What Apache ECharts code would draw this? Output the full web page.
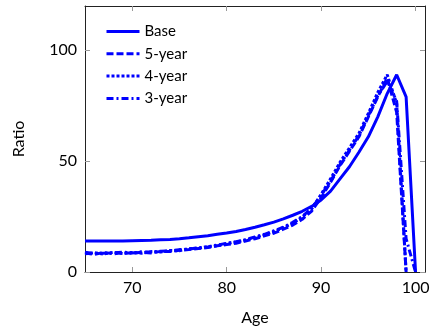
<!DOCTYPE html>
<html>
<head>
<meta charset="utf-8">
<script src="https://cdn.jsdelivr.net/npm/echarts@6/dist/echarts.min.js"></script>
<style>
html,body{margin:0;padding:0;background:#fff;}
#c{width:432px;height:327px;}
</style>
</head>
<body>
<div id="c"></div>
<script>
const ages = [65,66,67,68,69,70,71,72,73,74,75,76,77,78,79,80,81,82,83,84,85,86,87,88,89,90,91,92,93,94,95,96,97,98,99,100];
const base = [14.0,14.0,14.0,14.0,14.0,14.1,14.2,14.3,14.5,14.7,15.0,15.4,15.9,16.4,17.0,17.6,18.3,19.2,20.2,21.3,22.5,24.0,25.6,27.4,29.6,32.5,36.5,42.0,47.5,54.0,61.0,70.0,80.5,89.0,79.0,0];
const fiveYear = [8.6,8.0,8.8,8.2,8.7,8.4,8.9,8.6,9.3,9.2,9.8,10.1,10.6,11.0,11.8,12.4,13.0,14.0,15.0,16.3,17.5,19.3,21.2,23.8,27.5,33.5,40.5,48.0,54.5,61.0,70.0,79.0,87.5,72.0,0,null];
const fourYear = [8.2,8.7,8.1,8.9,8.3,8.8,8.5,9.2,9.0,9.7,9.6,10.5,10.7,11.5,11.9,12.8,13.5,14.4,15.5,16.8,18.2,20.0,22.0,24.8,28.5,35.0,42.0,49.5,56.0,62.5,71.5,81.0,89.0,76.0,0,null];
const threeYear = [8.9,8.3,8.5,8.6,9.0,8.6,9.1,9.0,9.4,9.5,10.1,10.3,11.0,11.3,12.2,12.9,13.7,14.6,15.8,17.0,18.6,20.2,22.4,25.0,28.8,34.5,41.0,48.5,55.0,61.5,70.5,79.5,86.0,77.0,15.0,0];
const seriesNames = ['Base','5-year','4-year','3-year'];
const xTicks = [70,80,90,100];
const yTicks = [0,50,100];

const pairs = vals => ages.map((a,i) => [a, vals[i]]);
const font = 'Lato, "Open Sans", sans-serif';
const blue = '#0000ff';
const dashes = ['solid',[7,3],[3,2],[7,3,2,3]];
const all = [base,fiveYear,fourYear,threeYear];

const chart = echarts.init(document.getElementById('c'), null, {renderer:'canvas'});
const tickStyle = {show:true, inside:true, length:5, lineStyle:{color:'#999', width:1}};
chart.setOption({
  animation:false,
  backgroundColor:'#fff',
  grid:{left:85, right:7, top:6, bottom:55, containLabel:false, outerBoundsMode:'none'},
  legend:{
    orient:'vertical', left:100, top:19,
    itemWidth:33, itemHeight:14, itemGap:7.3,
    itemStyle:{opacity:0},
    lineStyle:{width:3},
    textStyle:{fontFamily:font, fontSize:15, color:'#000'},
    data:seriesNames
  },
  xAxis:[
    {type:'value', position:'bottom', min:65, max:101,
     axisLine:{show:true, onZero:false, lineStyle:{color:'#222', width:1}},
     axisTick:Object.assign({}, tickStyle, {customValues:xTicks}),
     axisLabel:{customValues:xTicks, fontFamily:font, fontSize:16, color:'#000', margin:8},
     splitLine:{show:false},
     name:'Age', nameLocation:'middle', nameGap:38,
     nameTextStyle:{fontFamily:font, fontSize:16, color:'#000'}},
    {type:'value', position:'top', min:65, max:101,
     axisLine:{show:true, onZero:false, lineStyle:{color:'#222', width:1}},
     axisTick:Object.assign({}, tickStyle, {customValues:xTicks}),
     axisLabel:{show:false}, splitLine:{show:false}}
  ],
  yAxis:[
    {type:'value', position:'left', min:0, max:120,
     axisLine:{show:true, onZero:false, lineStyle:{color:'#222', width:1}},
     axisTick:Object.assign({}, tickStyle, {customValues:yTicks}),
     axisLabel:{customValues:yTicks, fontFamily:font, fontSize:16, color:'#000', margin:8},
     splitLine:{show:false},
     name:'Ratio', nameLocation:'middle', nameGap:58, nameRotate:90,
     nameTextStyle:{fontFamily:font, fontSize:16, color:'#000'}},
    {type:'value', position:'right', min:0, max:120,
     axisLine:{show:true, onZero:false, lineStyle:{color:'#222', width:1}},
     axisTick:Object.assign({}, tickStyle, {customValues:yTicks}),
     axisLabel:{show:false}, splitLine:{show:false}}
  ],
  series: seriesNames.map((n,i) => ({
    name:n, type:'line', xAxisIndex:0, yAxisIndex:0,
    data:pairs(all[i]), symbol:'none', showSymbol:false,
    lineStyle:{color:blue, width:3, type:dashes[i]},
    itemStyle:{color:blue},
    z: 10 - i
  }))
});
</script>
</body>
</html>
